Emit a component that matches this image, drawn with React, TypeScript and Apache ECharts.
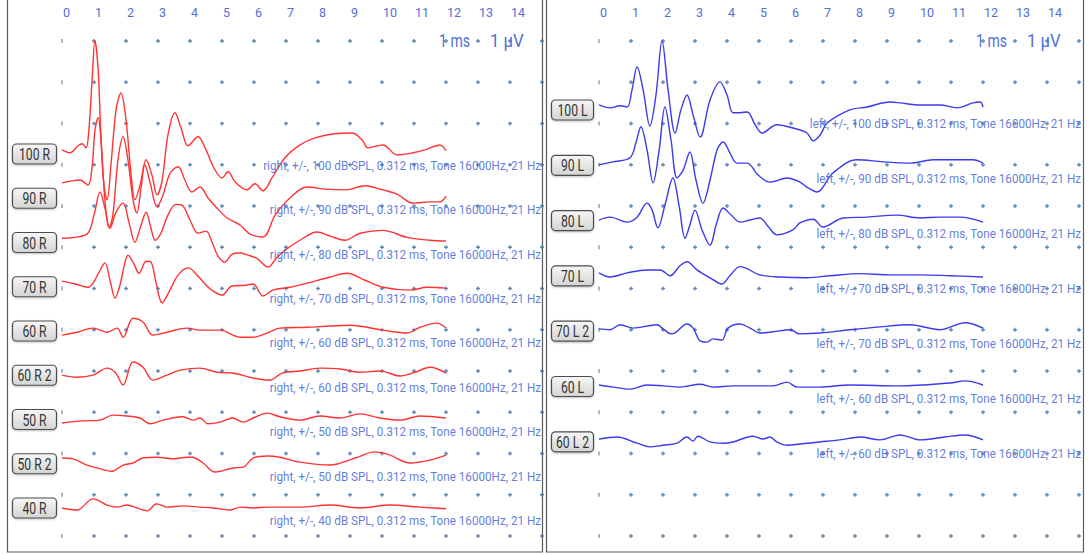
import React, { useEffect, useRef } from "react";
import * as echarts from "echarts";

// ---------- labels ----------
const LEFT_NAMES = ["100 R", "90 R", "80 R", "70 R", "60 R", "60 R 2", "50 R", "50 R 2", "40 R"];
const LEFT_LEVELS = [100, 90, 80, 70, 60, 60, 50, 50, 40];
const RIGHT_NAMES = ["100 L", "90 L", "80 L", "70 L", "70 L 2", "60 L", "60 L 2"];
const RIGHT_LEVELS = [100, 90, 80, 70, 70, 60, 60];
const TIME_TICKS = [0, 1, 2, 3, 4, 5, 6, 7, 8, 9, 10, 11, 12, 13, 14];
const GRID_ROWS = [0, 1, 2, 3, 4, 5, 6, 7, 8, 9, 10, 11, 12];
const GRID_COLS = [1, 2, 3, 4, 5, 6, 7, 8, 9, 10, 11, 12, 13, 14, 15];

// baseline of each trace, in µV below the top dot row
const LEFT_BASELINES = [2.64, 3.44, 4.78, 5.82, 7.13, 8.1, 9.26, 10.11, 11.32];
const RIGHT_BASELINES = [1.55, 2.98, 4.34, 5.62, 6.98, 8.34, 9.65];

// ---------- waveforms: [time ms, amplitude µV relative to baseline] ----------
const R100 = [[0,0],[0.25,-0.07],[0.5,0.1],[0.63,0.15],[0.75,0.05],[0.84,0.48],[0.94,1.7],[1.03,2.64],[1.13,1.94],[1.22,0.24],[1.31,-0.85],[1.41,-1.21],[1.53,-0.36],[1.69,0.97],[1.84,1.38],[2.0,0.73],[2.16,-0.61],[2.28,-1.21],[2.44,-0.85],[2.63,-0.24],[2.81,-0.61],[2.97,-1.09],[3.13,-0.73],[3.31,0.36],[3.53,0.9],[3.72,0.53],[3.94,0.1],[4.25,0.32],[4.5,0],[4.75,-0.44],[5.0,-0.68],[5.19,-0.53],[5.41,-0.78],[5.78,-0.97],[6.03,-0.82],[6.28,-0.99],[6.56,-0.68],[6.97,-0.19],[7.44,0.12],[7.91,0.29],[8.53,0.39],[9.06,0.41],[9.38,0.24],[9.56,0.05],[10.03,0.12],[10.47,-0.12],[10.97,-0.07],[11.34,0],[11.81,0.12],[12.0,-0.02]];
const R90 = [[0,0],[0.31,0.05],[0.56,0.07],[0.81,-0.05],[0.94,0.39],[1.03,1.28],[1.13,1.58],[1.22,1.04],[1.34,-0.41],[1.47,-1.09],[1.59,-0.78],[1.75,0.56],[1.91,1.12],[2.06,0.56],[2.22,-0.41],[2.34,-0.73],[2.47,-0.12],[2.59,0.44],[2.75,0.02],[2.97,-0.58],[3.16,-0.29],[3.38,0.24],[3.63,0.39],[3.84,0.07],[4.06,-0.22],[4.31,-0.1],[4.56,-0.36],[4.84,-0.61],[5.16,-0.85],[5.56,-1.02],[5.88,-1.24],[6.28,-1.31],[6.66,-0.78],[7.13,-0.36],[7.66,-0.1],[8.22,-0.15],[8.84,-0.17],[9.47,-0.07],[10.03,-0.17],[10.47,-0.27],[10.97,-0.49],[11.5,-0.46],[11.81,-0.46],[12.0,-0.32]];
const R80 = [[0,0],[0.41,0.02],[0.81,0.12],[1.0,0.56],[1.19,1.12],[1.34,0.73],[1.5,0.24],[1.69,0.63],[1.91,0.85],[2.09,0.39],[2.28,-0.1],[2.44,0.24],[2.63,0.63],[2.78,0.24],[2.91,-0.05],[3.09,0.12],[3.31,0.56],[3.56,0.82],[3.75,0.8],[4.0,0.44],[4.25,0.12],[4.5,0.17],[4.69,-0.1],[4.88,-0.44],[5.09,-0.58],[5.31,-0.39],[5.56,-0.36],[5.81,-0.41],[6.09,-0.49],[6.44,-0.7],[6.69,-0.49],[6.97,-0.29],[7.44,-0.05],[7.97,0.15],[8.38,0.05],[8.84,-0.05],[9.31,0.12],[10.03,0.19],[10.78,0.02],[11.5,-0.05],[12.0,-0.07]];
const R70 = [[0,0],[0.41,-0.07],[0.81,-0.15],[0.97,-0.05],[1.16,0.22],[1.34,0.44],[1.5,0.02],[1.66,-0.41],[1.81,-0.1],[1.97,0.46],[2.06,0.63],[2.22,0.46],[2.41,0.19],[2.63,0.48],[2.78,0.46],[2.94,-0.05],[3.13,-0.53],[3.34,-0.27],[3.63,0.15],[3.94,0.32],[4.25,0.12],[4.63,-0.19],[5.0,-0.34],[5.31,-0.12],[5.72,-0.1],[5.97,-0.07],[6.28,-0.36],[6.59,-0.22],[7.13,-0.15],[7.66,-0.05],[8.38,0.1],[8.91,0.19],[9.47,0.02],[10.03,-0.15],[10.88,-0.22],[11.41,-0.15],[12.0,-0.17]];
const R60 = [[0,0],[0.47,0.07],[0.97,0.17],[1.41,0.07],[1.72,0.17],[1.91,-0.05],[2.22,0.41],[2.53,0.32],[2.84,0],[3.28,0.07],[3.91,0.17],[4.31,0.12],[4.94,0.12],[5.56,-0.05],[5.97,-0.05],[6.41,0.05],[6.81,0.17],[7.66,0.19],[8.38,0.22],[9.0,0.24],[10.03,0.12],[10.78,0.05],[11.19,0.19],[11.72,0.29],[12.0,0.17]];
const R60B = [[0,0],[0.47,-0.05],[0.97,0],[1.41,0.17],[1.66,0.07],[1.91,-0.24],[2.22,0.32],[2.53,0.19],[2.84,-0.12],[3.28,0],[3.69,0.12],[4.31,0.17],[4.84,0.07],[5.34,0.05],[5.97,-0.07],[6.5,-0.12],[6.88,0.05],[7.44,0.1],[8.06,0.17],[8.69,0.15],[9.31,0.07],[9.94,0.1],[10.56,-0.02],[11.03,0.07],[11.5,0.19],[12.0,0.05]];
const R50 = [[0,0],[0.66,0.05],[1.19,0.07],[1.59,0.19],[2.03,0.17],[2.44,0.12],[2.75,-0.02],[3.16,0.07],[3.78,0.15],[4.09,0.07],[4.31,0.12],[4.56,-0.02],[4.94,0.02],[5.34,0.12],[5.66,0.02],[5.97,0.12],[6.41,0.24],[6.81,0.15],[7.44,0.07],[8.06,0.17],[8.69,0.12],[9.31,0.22],[9.94,0.12],[10.56,0.07],[11.19,0.17],[12.0,0.12]];
const R50B = [[0,0],[0.34,-0.02],[0.78,-0.17],[1.09,-0.24],[1.56,-0.32],[1.91,-0.17],[2.22,-0.12],[2.53,0],[2.97,0.02],[3.47,-0.02],[3.91,0.02],[4.06,0.02],[4.41,-0.12],[4.78,-0.34],[5.34,-0.24],[5.66,-0.22],[5.97,0],[6.41,0.05],[6.81,0.02],[7.44,-0.1],[8.38,-0.17],[9.16,0],[9.78,0.15],[10.25,0.07],[10.88,-0.12],[11.5,-0.05],[12.0,0.07]];
const R40 = [[0,0],[0.47,-0.05],[0.97,0.22],[1.41,0.07],[1.72,0.02],[2.03,0.07],[2.34,0],[2.66,-0.07],[2.97,0.1],[3.28,0.02],[3.78,0.05],[4.31,0.02],[4.72,0],[5.25,-0.05],[5.56,0.02],[5.97,0],[6.41,0.02],[6.81,0.02],[7.44,0.02],[8.38,0.07],[9.31,0],[10.25,0.07],[11.19,0.02],[12.0,-0.02]];

const L100 = [[0,0],[0.34,-0.07],[0.66,-0.02],[0.88,-0.05],[1.03,0.36],[1.19,0.92],[1.38,0.36],[1.59,-0.51],[1.78,0.24],[1.97,1.55],[2.16,0.36],[2.38,-0.68],[2.56,-0.12],[2.75,0.24],[2.94,-0.24],[3.16,-0.78],[3.47,0.12],[3.78,0.56],[4.0,0.24],[4.19,-0.19],[4.41,-0.19],[4.63,-0.17],[4.88,-0.48],[5.09,-0.68],[5.56,-0.48],[6.06,-0.56],[6.5,-0.68],[6.69,-0.87],[6.91,-0.73],[7.13,-0.44],[7.84,-0.12],[8.38,-0.05],[9.09,0.07],[9.41,0.05],[9.94,0],[10.66,0],[11.19,-0.07],[11.69,0.05],[11.91,0.07],[12.0,-0.05]];
const L90 = [[0,-0.02],[0.44,0.05],[0.97,0.15],[1.16,0.53],[1.31,0.9],[1.5,0.34],[1.69,-0.46],[1.88,0.34],[2.06,1.38],[2.25,0.58],[2.44,-0.34],[2.63,-0.15],[2.84,0.29],[3.03,-0.39],[3.25,-0.95],[3.47,-0.39],[3.69,0.34],[3.88,0.53],[4.09,0.27],[4.31,0.02],[4.63,0.02],[4.97,-0.27],[5.34,-0.44],[5.88,-0.34],[6.28,-0.44],[6.53,-0.58],[6.81,-0.68],[7.31,-0.22],[8.06,0.1],[8.88,0.05],[9.72,0.02],[10.44,0.1],[11.19,0.1],[11.69,0.1],[12.0,0.02]];
const L80 = [[0,0],[0.34,0.07],[0.88,-0.05],[1.19,0.07],[1.5,0.41],[1.66,0.24],[1.84,-0.19],[2.06,0.36],[2.31,1.02],[2.5,0.36],[2.69,-0.44],[2.84,-0.12],[3.0,0.24],[3.22,-0.24],[3.47,-0.61],[3.66,-0.12],[3.88,0.29],[4.13,0.12],[4.41,-0.05],[4.72,0],[5.03,0.05],[5.28,-0.15],[5.56,-0.36],[6.06,-0.24],[6.28,-0.07],[6.69,0.02],[7.0,-0.17],[7.63,0.05],[8.38,0.07],[9.31,0.12],[10.03,0.05],[10.66,0.07],[11.28,0.07],[12.0,-0.05]];
const L70 = [[0,0],[0.34,-0.1],[0.88,0],[1.5,0.07],[1.91,0.07],[2.22,-0.07],[2.53,0.17],[2.75,0.27],[3.06,0.07],[3.47,-0.12],[3.84,-0.27],[4.09,-0.07],[4.41,0.15],[5.03,-0.05],[5.66,-0.1],[6.5,-0.12],[7.22,-0.07],[8.16,-0.02],[9.09,-0.05],[10.03,-0.05],[10.97,-0.07],[12.0,-0.1]];
const L70B = [[0,0],[0.34,-0.02],[0.66,0.1],[1.06,0.02],[1.81,0.1],[2.0,0],[2.28,-0.12],[2.75,0.12],[2.94,0.02],[3.16,-0.29],[3.38,-0.32],[3.56,-0.24],[3.84,-0.27],[4.03,0.02],[4.41,0.12],[4.72,0.02],[5.03,-0.1],[5.44,-0.07],[5.97,-0.02],[6.28,-0.12],[6.91,-0.1],[7.84,-0.02],[8.78,0.05],[9.72,0.1],[10.66,-0.02],[11.44,0.15],[12.0,0.02]];
const L60 = [[0,0],[0.44,-0.05],[0.97,-0.1],[1.5,0],[2.0,-0.02],[2.53,-0.05],[3.16,0.02],[3.56,-0.05],[4.19,-0.02],[4.81,-0.02],[5.44,-0.02],[5.88,0.07],[6.19,-0.05],[6.91,-0.05],[7.84,0],[9.41,-0.02],[10.97,0.05],[11.44,0.1],[12.0,0]];
const L60B = [[0,0],[0.56,0.05],[1.19,-0.1],[1.59,-0.19],[2.0,-0.15],[2.44,-0.1],[2.75,0.05],[2.94,-0.05],[3.09,0.07],[3.47,-0.07],[3.88,-0.1],[4.19,-0.07],[4.81,0.07],[5.13,0],[5.34,0.05],[5.56,-0.07],[5.88,-0.15],[6.28,-0.12],[6.91,-0.07],[7.53,-0.02],[8.16,0.05],[8.78,-0.02],[9.41,0.1],[10.03,-0.02],[10.81,0.05],[11.44,0.1],[12.0,-0.02]];

const LEFT_TRACES = [R100, R90, R80, R70, R60, R60B, R50, R50B, R40];
const RIGHT_TRACES = [L100, L90, L80, L70, L70B, L60, L60B];

// ---------- layout / style ----------
const W = 1091;
const H = 555;
const GRID_TOP = 41;
const GRID_H = 495;
const PANELS = [
  { gridLeft: 62, frame: [7.5, -2, 535, 554], boxX: 12, boxW: 44, boxY0: 154, boxStep: 44.25, textRight: 541, textY0: 165, textStep: 44.4, color: "#ff3333", side: "right" },
  { gridLeft: 599, frame: [546.5, -2, 537, 554], boxX: 551, boxW: 42, boxY0: 110, boxStep: 55.3, textRight: 1081, textY0: 123, textStep: 55, color: "#3a3af0", side: "left" },
];
const FONT = "Roboto, 'Liberation Sans', sans-serif";
const BLUE_TEXT = "#5270d8";
const DOT_COLOR = "#3f6d9c";
const PLUS = "path://M1,0H2V1H3V2H2V3H1V2H0V1H1Z";

export default function App() {
  const ref = useRef<HTMLDivElement>(null);

  useEffect(() => {
    if (!ref.current) return;
    const chart = echarts.init(ref.current, undefined, { renderer: "svg", width: W, height: H });

    const grids = PANELS.map((p) => ({ left: p.gridLeft, top: GRID_TOP, width: 480, height: GRID_H }));
    const xAxes = PANELS.map((_, i) => ({
      gridIndex: i,
      type: "value",
      min: 0,
      max: 15,
      interval: 1,
      position: "top",
      axisLine: { show: false },
      axisTick: { show: false },
      splitLine: { show: false },
      axisLabel: {
        formatter: (v: number) => (TIME_TICKS.indexOf(v) >= 0 ? String(v) : ""),
        align: "left",
        margin: 22,
        padding: [0, 0, 0, 1],
        color: BLUE_TEXT,
        fontSize: 12.5,
        fontFamily: FONT,
      },
    }));
    const yAxes = PANELS.map((_, i) => ({ gridIndex: i, type: "value", min: -12, max: 0, show: false }));

    const series: any[] = [];
    PANELS.forEach((p, gi) => {
      const dots: number[][] = [];
      const ticks: number[][] = [];
      GRID_ROWS.forEach((r) => {
        GRID_COLS.forEach((c) => dots.push([c, -r]));
        ticks.push([0, -r]);
      });
      series.push({
        type: "scatter", xAxisIndex: gi, yAxisIndex: gi, data: dots, symbol: PLUS, symbolSize: 4,
        itemStyle: { color: DOT_COLOR }, silent: true, clip: false, z: 1,
      });
      series.push({
        type: "scatter", xAxisIndex: gi, yAxisIndex: gi, data: ticks, symbol: "rect", symbolSize: [1.2, 4],
        itemStyle: { color: DOT_COLOR }, silent: true, clip: false, z: 1,
      });
      const traces = gi === 0 ? LEFT_TRACES : RIGHT_TRACES;
      const bases = gi === 0 ? LEFT_BASELINES : RIGHT_BASELINES;
      traces.forEach((tr, k) => {
        series.push({
          type: "line", xAxisIndex: gi, yAxisIndex: gi,
          data: tr.map(([t, v]) => [t, -bases[k] + v]),
          smooth: 0.35, symbol: "none", clip: false,
          lineStyle: { color: p.color, width: 1.4 }, z: 3,
        });
      });
    });

    const graphic: any[] = [];
    const grad = () =>
      new echarts.graphic.LinearGradient(0, 0, 0, 1, [
        { offset: 0, color: "#f7f7f7" },
        { offset: 1, color: "#d4d4d4" },
      ]);
    PANELS.forEach((p, gi) => {
      const [fx, fy, fw, fh] = p.frame;
      graphic.push({ type: "rect", shape: { x: fx, y: fy, width: fw, height: fh }, style: { fill: "none", stroke: "#5a5a5a", lineWidth: 1.2 }, z: 0 });
      const names = gi === 0 ? LEFT_NAMES : RIGHT_NAMES;
      const levels = gi === 0 ? LEFT_LEVELS : RIGHT_LEVELS;
      names.forEach((n, k) => {
        const cy = p.boxY0 + k * p.boxStep;
        graphic.push({
          type: "rect", z: 10,
          shape: { x: p.boxX + 0.5, y: cy - 10, width: p.boxW, height: 20, r: 4 },
          style: { fill: grad(), stroke: "#4d4d4d", lineWidth: 1.2, shadowBlur: 2, shadowColor: "rgba(0,0,0,0.25)", shadowOffsetY: 1 },
        });
        graphic.push({
          type: "text", z: 11, x: p.boxX + 0.5 + p.boxW / 2, y: cy + 0.5, scaleX: 0.76,
          style: { text: n, fill: "#333333", fontSize: 16, fontFamily: FONT, align: "center", verticalAlign: "middle" },
        });
        graphic.push({
          type: "text", z: 5, x: p.textRight, y: p.textY0 + k * p.textStep, scaleX: 0.865,
          style: {
            text: `${p.side}, +/-, ${levels[k]} dB SPL, 0.312 ms, Tone 16000Hz, 21 Hz`,
            fill: BLUE_TEXT, fontSize: 13.5, fontFamily: FONT, align: "right", verticalAlign: "middle", opacity: 0.92,
          },
        });
      });
      const ox = gi === 0 ? 0 : 537;
      graphic.push({ type: "text", z: 5, x: 470 + ox, y: GRID_TOP, scaleX: 0.78, style: { text: "1 ms", fill: BLUE_TEXT, fontSize: 18, fontFamily: FONT, align: "right", verticalAlign: "middle" } });
      graphic.push({ type: "text", z: 5, x: 490 + ox, y: GRID_TOP, scaleX: 0.93, style: { text: "1 µV", fill: BLUE_TEXT, fontSize: 18, fontFamily: FONT, align: "left", verticalAlign: "middle" } });
    });

    chart.setOption({
      animation: false,
      backgroundColor: "#ffffff",
      grid: grids,
      xAxis: xAxes,
      yAxis: yAxes,
      series,
      graphic,
    });
    return () => chart.dispose();
  }, []);

  return <div ref={ref} style={{ position: "fixed", left: 0, top: 0, width: W, height: H, background: "#fff" }} />;
}
